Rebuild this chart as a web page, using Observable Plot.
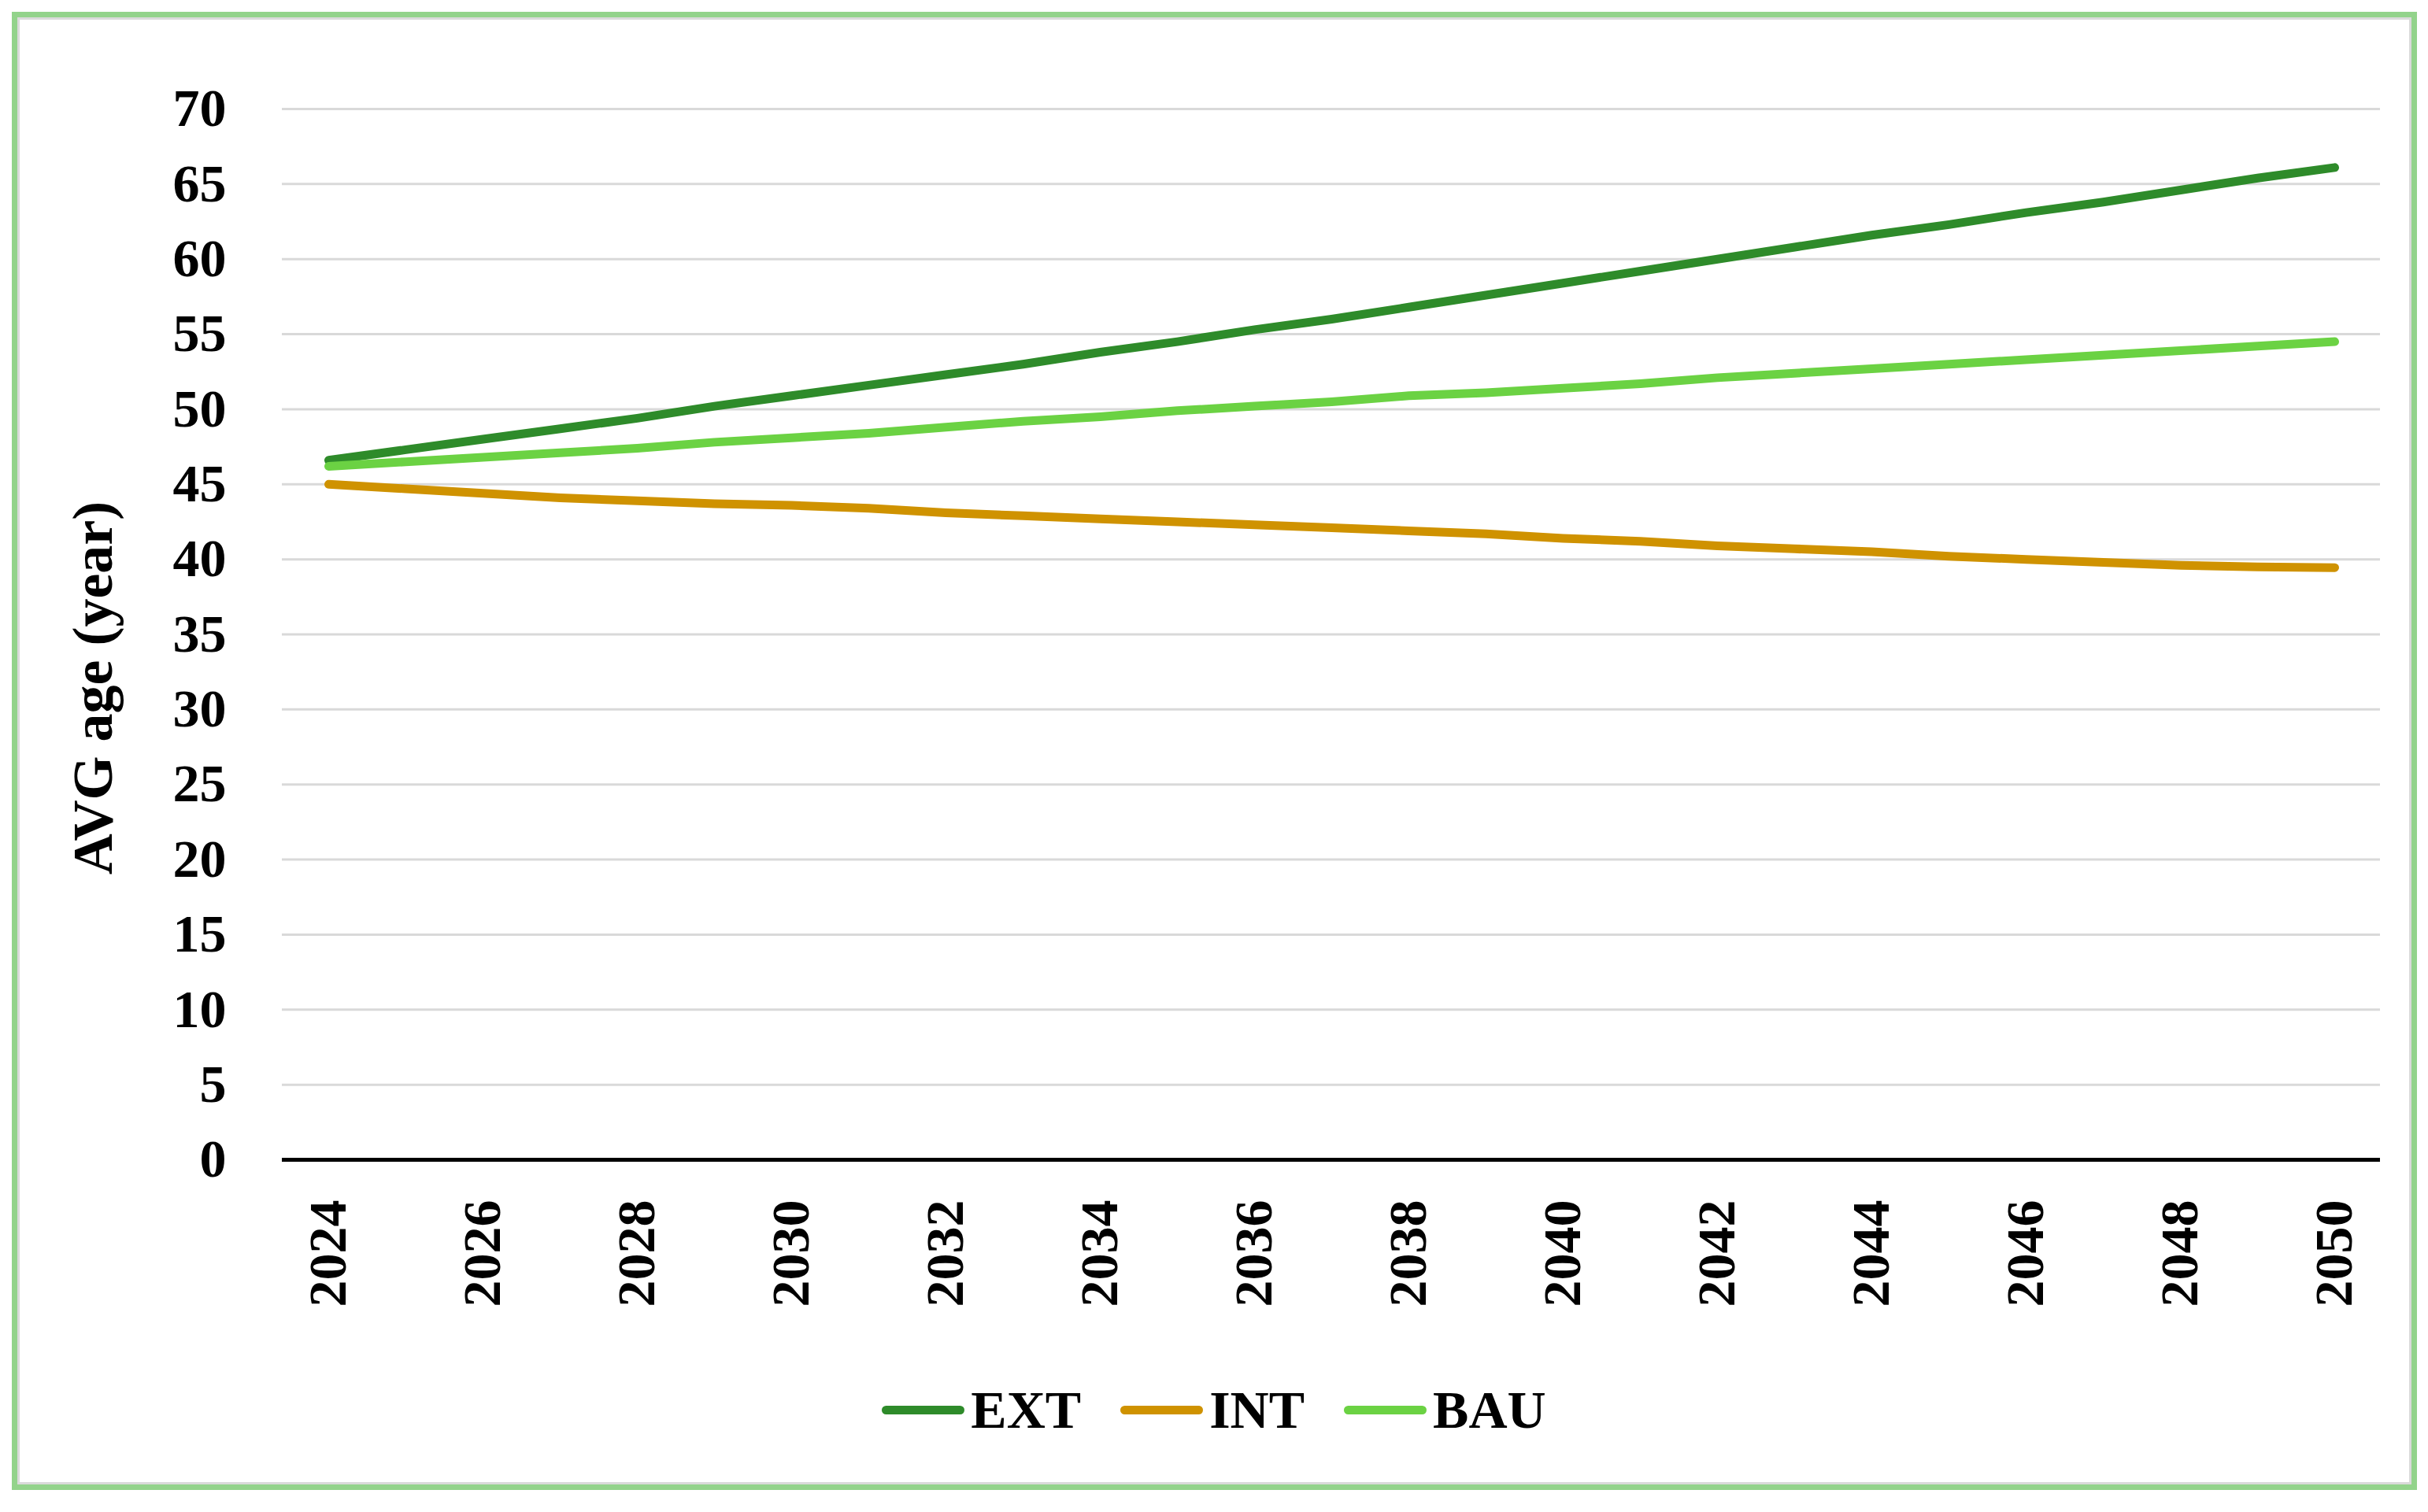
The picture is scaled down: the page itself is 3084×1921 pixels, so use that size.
<!DOCTYPE html>
<html><head><meta charset="utf-8">
<script src="https://cdn.jsdelivr.net/npm/d3@7"></script>
<script src="https://cdn.jsdelivr.net/npm/@observablehq/plot@0.6"></script>
<style>
html,body{margin:0;padding:0;background:#fff;}
body{width:3084px;height:1921px;position:relative;overflow:hidden;font-family:"Liberation Serif",serif;}
#chart{position:absolute;left:0;top:0;}
#frame{position:absolute;left:15px;top:15px;width:3041px;height:1864px;border:7px solid #93d38b;box-shadow:inset 0 0 0 3px #dadada;pointer-events:none;}
#legend{position:absolute;left:0;top:1752px;width:3084px;display:flex;justify-content:center;align-items:center;font-weight:bold;font-size:68px;color:#000;}
.item{display:flex;align-items:center;margin:0 25px;}
.sw{width:105px;height:11px;border-radius:5.5px;margin-right:8px;}
</style>
</head><body>
<div id="chart"></div>
<div id="legend"></div>
<div id="frame"></div>
<script>
const years = [2024,2025,2026,2027,2028,2029,2030,2031,2032,2033,2034,2035,2036,2037,2038,2039,2040,2041,2042,2043,2044,2045,2046,2047,2048,2049,2050];
const seriesNames = ["EXT","INT","BAU"];
const seriesColors = ["#2e8b2a","#cf9200","#6bd243"];
const ext = [46.6,47.3,48.0,48.7,49.4,50.2,50.9,51.6,52.3,53.0,53.8,54.5,55.3,56.0,56.8,57.6,58.4,59.2,60.0,60.8,61.6,62.3,63.1,63.8,64.6,65.4,66.1];
const int = [45.0,44.7,44.4,44.1,43.9,43.7,43.6,43.4,43.1,42.9,42.7,42.5,42.3,42.1,41.9,41.7,41.4,41.2,40.9,40.7,40.5,40.2,40.0,39.8,39.6,39.5,39.45];
const bau = [46.2,46.5,46.8,47.1,47.4,47.8,48.1,48.4,48.8,49.2,49.5,49.9,50.2,50.5,50.9,51.1,51.4,51.7,52.1,52.4,52.7,53.0,53.3,53.6,53.9,54.2,54.5];
const xTicks = [2024,2026,2028,2030,2032,2034,2036,2038,2040,2042,2044,2046,2048,2050];
const yTicks = [0,5,10,15,20,25,30,35,40,45,50,55,60,65,70];
const yLabel = "AVG age (year)";

const valuesBySeries = {EXT: ext, INT: int, BAU: bau};
const data = seriesNames.flatMap(s => years.map((y, i) => ({series: s, year: String(y), value: valuesBySeries[s][i]})));

const font = '"Liberation Serif", serif';
const chart = Plot.plot({
  width: 3084,
  height: 1700,
  marginLeft: 358,
  marginRight: 61,
  marginTop: 138,
  marginBottom: 227,
  style: {fontFamily: font, fontWeight: "bold", fontSize: "68px", color: "#000", background: "transparent"},
  x: {type: "point", domain: years.map(String), padding: 0.5},
  y: {domain: [0, 70]},
  color: {domain: seriesNames, range: seriesColors},
  marks: [
    Plot.gridY(yTicks.filter(d => d > 0), {stroke: "#d9d9d9", strokeOpacity: 1, strokeWidth: 3}),
    Plot.axisY(yTicks, {tickSize: 0, tickPadding: 71, fontSize: 68, fontWeight: "bold", label: null}),
    Plot.text([yLabel], {text: d => d, frameAnchor: "left", rotate: -90, lineAnchor: "bottom", textAnchor: "middle", dx: -217, dy: 68, fontSize: 72, fontWeight: "bold", fill: "#000"}),
    Plot.axisX(xTicks.map(String), {tickSize: 0, tickPadding: 51, tickRotate: -90, fontSize: 68, fontWeight: "bold", label: null}),
    Plot.ruleY([0], {stroke: "#000", strokeWidth: 5}),
    Plot.line(data, {x: "year", y: "value", z: "series", stroke: "series", strokeWidth: 11, strokeLinecap: "round", strokeLinejoin: "round"})
  ]
});
document.getElementById("chart").appendChild(chart);

const legend = document.getElementById("legend");
seriesNames.forEach((s, i) => {
  const item = document.createElement("div");
  item.className = "item";
  const sw = document.createElement("div");
  sw.className = "sw";
  sw.style.background = seriesColors[i];
  const t = document.createElement("span");
  t.textContent = s;
  item.appendChild(sw);
  item.appendChild(t);
  legend.appendChild(item);
});
</script>
</body></html>
